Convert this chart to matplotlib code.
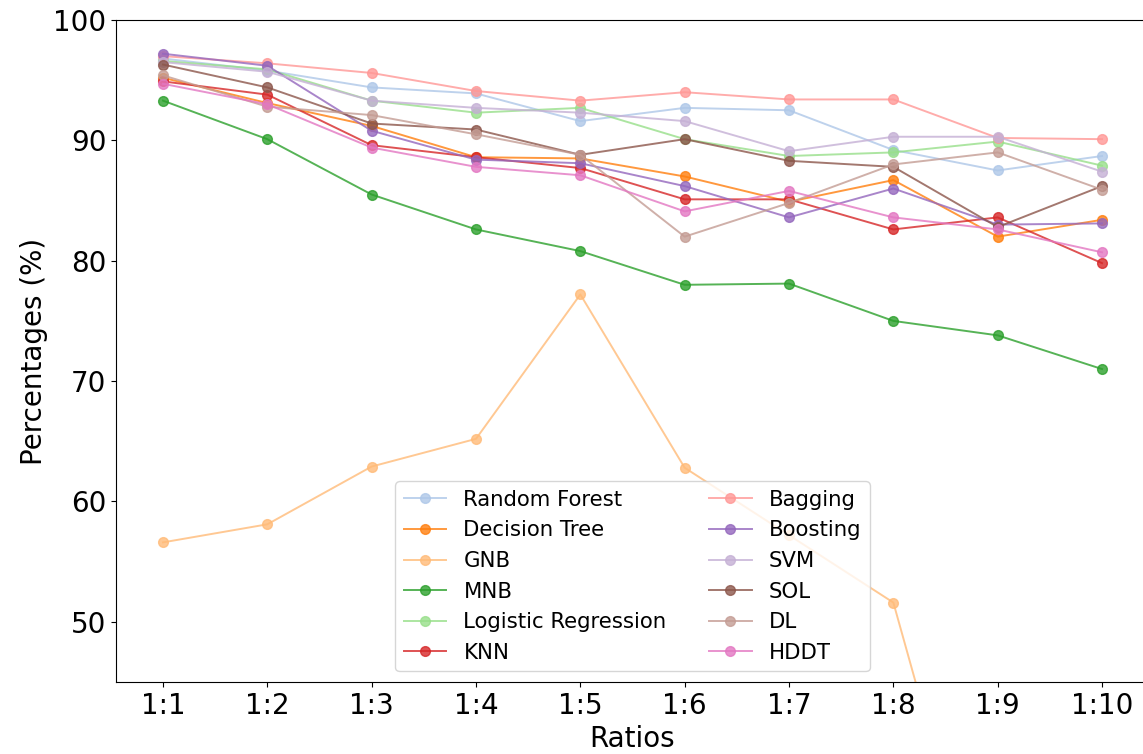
import matplotlib
matplotlib.use("Agg")
import matplotlib.pyplot as plt

# Ratios on the x axis
ratios = ["1:1", "1:2", "1:3", "1:4", "1:5", "1:6", "1:7", "1:8", "1:9", "1:10"]

# Percentages per classifier
random_forest = [96.8, 95.8, 94.4, 93.9, 91.6, 92.7, 92.5, 89.2, 87.5, 88.7]
decision_tree = [95.2, 93.1, 91.2, 88.6, 88.5, 87.0, 84.9, 86.7, 82.0, 83.4]
gnb = [56.6, 58.1, 62.9, 65.2, 77.2, 62.8, 57.2, 51.6, 20.6, 20.0]
mnb = [93.3, 90.1, 85.5, 82.6, 80.8, 78.0, 78.1, 75.0, 73.8, 71.0]
logistic_regression = [96.6, 95.9, 93.3, 92.3, 92.7, 90.1, 88.7, 89.0, 89.9, 87.9]
knn = [94.9, 93.8, 89.6, 88.6, 87.7, 85.1, 85.1, 82.6, 83.6, 79.8]
bagging = [97.0, 96.4, 95.6, 94.1, 93.3, 94.0, 93.4, 93.4, 90.2, 90.1]
boosting = [97.2, 96.2, 90.8, 88.4, 88.1, 86.2, 83.6, 86.0, 83.0, 83.1]
svm = [96.5, 95.7, 93.3, 92.7, 92.3, 91.6, 89.1, 90.3, 90.3, 87.4]
sol = [96.3, 94.4, 91.4, 90.9, 88.8, 90.1, 88.3, 87.8, 82.8, 86.2]
dl = [95.4, 92.8, 92.1, 90.5, 88.8, 82.0, 84.8, 88.0, 89.0, 85.9]
hddt = [94.7, 93.0, 89.4, 87.8, 87.1, 84.1, 85.8, 83.6, 82.6, 80.7]

series = [
    ("Random Forest", random_forest),
    ("Decision Tree", decision_tree),
    ("GNB", gnb),
    ("MNB", mnb),
    ("Logistic Regression", logistic_regression),
    ("KNN", knn),
    ("Bagging", bagging),
    ("Boosting", boosting),
    ("SVM", svm),
    ("SOL", sol),
    ("DL", dl),
    ("HDDT", hddt),
]

# tab20, skipping the first (dark blue) entry
colors = plt.get_cmap("tab20").colors[1:]

fig = plt.figure(figsize=(11.43, 7.54), dpi=100)
# axes run past the right edge, as in the (cropped) reference
ax = fig.add_axes([116 / 1143, 72 / 754, 1033 / 1143, 662 / 754])

x = list(range(len(ratios)))
for i, (name, values) in enumerate(series):
    ax.plot(x, values, marker="o", markersize=7, linewidth=1.4,
            color=colors[i], alpha=0.8, label=name)

ax.set_ylim(45, 100)
ax.set_xticks(x)
ax.set_xticklabels(ratios)
ax.tick_params(labelsize=20)
ax.set_xlabel("Ratios", fontsize=20)
ax.set_ylabel("Percentages (%)", fontsize=20)

ax.legend(loc="lower center", ncol=2, fontsize=15.3, columnspacing=2.0)

fig.savefig("out.png", dpi=100)
